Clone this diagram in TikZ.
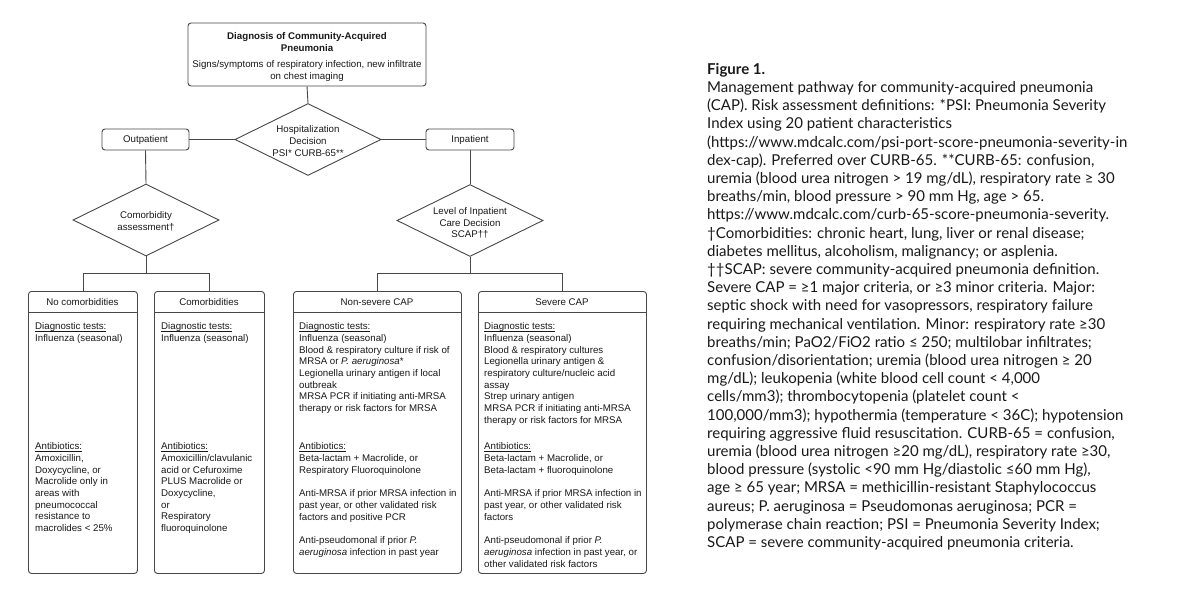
\documentclass[tikz,border=0pt]{standalone}
\usepackage{fontspec}
\setmainfont{Liberation Sans}
\newfontfamily\capfont{Lato}
\usetikzlibrary{shapes.geometric,calc}
\newcommand{\dfont}{\fontsize{9.7}{11.7}\selectfont}
\newcommand{\ulin}[1]{\setbox0\hbox{#1}\rlap{\rule[-1.4pt]{\wd0}{0.6pt}}\box0}
\begin{document}
\begin{tikzpicture}[x=1pt,y=-1pt,
  ln/.style={draw=black!72,line width=0.9pt},
  rbox/.style={ln,rounded corners=3pt,inner sep=0pt,font=\dfont,text=black!90},
  dia/.style={ln,diamond,inner sep=0pt,minimum width=146pt,minimum height=72pt},
  txt/.style={inner sep=0pt,font=\dfont,text=black!90},
  btxt/.style={txt,anchor=north west,align=left},
  ctxt/.style={txt,align=center},
]
\useasboundingbox (0,0) rectangle (1200,600);
\fill[white] (0,0) rectangle (1200,600);

% top box
\node[rbox,minimum width=238pt,minimum height=63pt] (top) at (307,54.5) {};
\node[ctxt,font=\dfont\bfseries] (toptitle) at (307,42) {Diagnosis of Community-Acquired\\Pneumonia};
\node[ctxt] (topsub) at (307,71) {Signs/symptoms of respiratory infection, new infiltrate\\on chest imaging};

% hospitalization decision
\node[dia] (hosp) at (308,139.5) {};
\node[ctxt] (hosptx) at (308,141) {Hospitalization\\Decision\\PSI* CURB-65**};

\node[rbox,minimum width=87pt,minimum height=21pt] (outp) at (145.5,139.5) {Outpatient};
\node[rbox,minimum width=88pt,minimum height=21pt] (inp) at (470,139.5) {Inpatient};

\node[dia] (comorb) at (146,220) {};
\node[ctxt] (comorbtx) at (146,221.5) {Comorbidity\\assessment†};
\node[dia] (level) at (470,220.5) {};
\node[ctxt] (leveltx) at (470,223) {Level of Inpatient\\Care Decision\\SCAP††};

\draw[ln] (top.south) -- (hosp.north);
\draw[ln] (hosp.west) -- (outp.east);
\draw[ln] (hosp.east) -- (inp.west);
\draw[ln] (outp.south) -- (comorb.north);
\draw[ln] (inp.south) -- (level.north);

% bottom boxes
\node[rbox,anchor=north west,minimum width=109pt,minimum height=282pt] (nocom) at (28,291) {};
\node[rbox,anchor=north west,minimum width=110pt,minimum height=282pt] (com) at (154,291) {};
\node[rbox,anchor=north west,minimum width=168pt,minimum height=282pt] (ns) at (293,291) {};
\node[rbox,anchor=north west,minimum width=168pt,minimum height=282pt] (sev) at (478,291) {};
\foreach \b in {nocom,com,ns,sev}{
  \draw[ln] ($(\b.north west)+(0,21)$) -- ($(\b.north east)+(0,21)$);
}
\node[txt] (nocomh) at (82.5,302) {No comorbidities};
\node[txt] (comh) at (209,302) {Comorbidities};
\node[txt] (nsh) at (377,302) {Non-severe CAP};
\node[txt] (sevh) at (562,302) {Severe CAP};

% bars
\coordinate (cbar) at (146,273);
\coordinate (lbar) at (470,273);
\draw[ln] (comorb.south) -- (cbar);
\draw[ln] (nocom.north) -- (nocom.north |- cbar) -- (com.north |- cbar) -- (com.north);
\draw[ln] (level.south) -- (lbar);
\draw[ln] (ns.north) -- (ns.north |- lbar) -- (sev.north |- lbar) -- (sev.north);

% box texts
\node[btxt] (nocomd) at (35,322.5) {\ulin{Diagnostic tests:}\\Influenza (seasonal)};
\node[btxt] (nocoma) at (35,442.5) {\ulin{Antibiotics:}\\Amoxicillin,\\Doxycycline, or\\Macrolide only in\\areas with\\pneumococcal\\resistance to\\macrolides < 25\%};

\node[btxt] (comd) at (161,322.5) {\ulin{Diagnostic tests:}\\Influenza (seasonal)};
\node[btxt] (coma) at (161,442.5) {\ulin{Antibiotics:}\\Amoxicillin/clavulanic\\acid or Cefuroxime\\PLUS Macrolide or\\Doxycycline,\\or\\Respiratory\\fluoroquinolone};

\node[btxt] (nsd) at (299,322.5) {\ulin{Diagnostic tests:}\\Influenza (seasonal)\\Blood \& respiratory culture if risk of\\MRSA or \textit{P. aeruginosa}*\\Legionella urinary antigen if local\\outbreak\\MRSA PCR if initiating anti-MRSA\\therapy or risk factors for MRSA};
\node[btxt] (nsa) at (299,442.5) {\ulin{Antibiotics:}\\Beta-lactam + Macrolide, or\\Respiratory Fluoroquinolone};
\node[btxt] (nsm) at (299,489.5) {Anti-MRSA if prior MRSA infection in\\past year, or other validated risk\\factors and positive PCR};
\node[btxt] (nsp) at (299,536.5) {Anti-pseudomonal if prior \textit{P.}\\\textit{aeruginosa} infection in past year};

\node[btxt] (sevd) at (484,322.5) {\ulin{Diagnostic tests:}\\Influenza (seasonal)\\Blood \& respiratory cultures\\Legionella urinary antigen \&\\respiratory culture/nucleic acid\\assay\\Strep urinary antigen\\MRSA PCR if initiating anti-MRSA\\therapy or risk factors for MRSA};
\node[btxt] (seva) at (484,442.5) {\ulin{Antibiotics:}\\Beta-lactam + Macrolide, or\\Beta-lactam + fluoroquinolone};
\node[btxt] (sevm) at (484,489.5) {Anti-MRSA if prior MRSA infection in\\past year, or other validated risk\\factors};
\node[btxt] (sevp) at (484,536.5) {Anti-pseudomonal if prior \textit{P.}\\\textit{aeruginosa} infection in past year, or\\other validated risk factors};

% caption
\node[anchor=north west,inner sep=0pt,align=left,text=black!90,font=\capfont\fontsize{15}{18.2}\selectfont] (cap) at (707,63) {%
\textbf{Figure 1.}\\
Management pathway for community-acquired pneumonia\\
(CAP). Risk assessment definitions: *PSI: Pneumonia Severity\\
Index using 20 patient characteristics\\
(https://www.mdcalc.com/psi-port-score-pneumonia-severity-in\\
dex-cap). Preferred over CURB-65. **CURB-65: confusion,\\
uremia (blood urea nitrogen > 19 mg/dL), respiratory rate ≥ 30\\
breaths/min, blood pressure > 90 mm Hg, age > 65.\\
https://www.mdcalc.com/curb-65-score-pneumonia-severity.\\
†Comorbidities: chronic heart, lung, liver or renal disease;\\
diabetes mellitus, alcoholism, malignancy; or asplenia.\\
††SCAP: severe community-acquired pneumonia definition.\\
Severe CAP = ≥1 major criteria, or ≥3 minor criteria. Major:\\
septic shock with need for vasopressors, respiratory failure\\
requiring mechanical ventilation. Minor: respiratory rate ≥30\\
breaths/min; PaO2/FiO2 ratio ≤ 250; multilobar infiltrates;\\
confusion/disorientation; uremia (blood urea nitrogen ≥ 20\\
mg/dL); leukopenia (white blood cell count < 4,000\\
cells/mm3); thrombocytopenia (platelet count <\\
100,000/mm3); hypothermia (temperature < 36C); hypotension\\
requiring aggressive fluid resuscitation. CURB-65 = confusion,\\
uremia (blood urea nitrogen ≥20 mg/dL), respiratory rate ≥30,\\
blood pressure (systolic <90 mm Hg/diastolic ≤60 mm Hg),\\
age ≥ 65 year; MRSA = methicillin-resistant Staphylococcus\\
aureus; P. aeruginosa = Pseudomonas aeruginosa; PCR =\\
polymerase chain reaction; PSI = Pneumonia Severity Index;\\
SCAP = severe community-acquired pneumonia criteria.};
\end{tikzpicture}
\end{document}
